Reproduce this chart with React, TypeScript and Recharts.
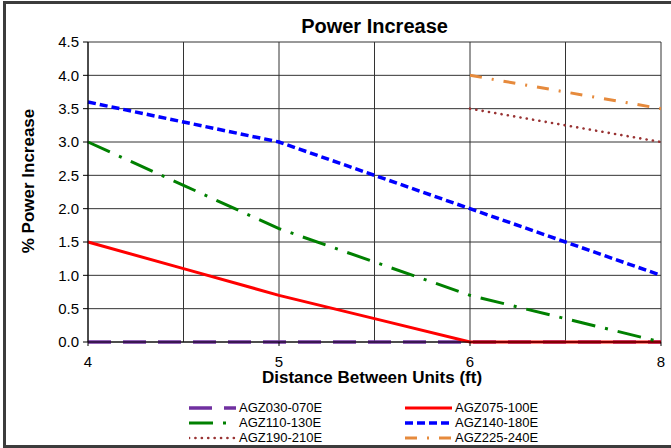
import React from 'react';
import { LineChart, Line, XAxis, YAxis, CartesianGrid } from 'recharts';

const distances = ['4', '4.5', '5', '5.5', '6', '7', '8'];
const labeledDistances = ['4', '5', '6', '8'];
const agz030 = [0, 0, 0, 0, 0, 0, 0];
const agz075 = [1.5, 1.1, 0.7, 0.35, 0, 0, 0];
const agz110 = [3.0, 2.35, 1.7, 1.2, 0.7, 0.35, 0];
const agz140 = [3.6, 3.3, 3.0, 2.5, 2.0, 1.5, 1.0];
const agz190 = [null, null, null, null, 3.5, 3.25, 3.0];
const agz225 = [null, null, null, null, 4.0, 3.75, 3.5];
const yTicks = [0, 0.5, 1, 1.5, 2, 2.5, 3, 3.5, 4, 4.5];

const data = distances.map((d, i) => ({
  dist: d,
  a030: agz030[i],
  a075: agz075[i],
  a110: agz110[i],
  a140: agz140[i],
  a190: agz190[i],
  a225: agz225[i],
}));

const series = [
  { key: 'a030', name: 'AGZ030-070E', color: '#7030A0', width: 3.5, dash: '23 12', cap: 'butt' },
  { key: 'a075', name: 'AGZ075-100E', color: '#FF0000', width: 3, dash: undefined, cap: 'butt' },
  { key: 'a110', name: 'AGZ110-130E', color: '#008000', width: 3, dash: '24 10 3 10', cap: 'butt' },
  { key: 'a140', name: 'AGZ140-180E', color: '#0000FF', width: 3.5, dash: '8 4', cap: 'butt' },
  { key: 'a190', name: 'AGZ190-210E', color: '#993333', width: 2.6, dash: '0.1 6.3', cap: 'round' },
  { key: 'a225', name: 'AGZ225-240E', color: '#E68A3C', width: 3, dash: '12 10 2 10', cap: 'butt' },
];

const font = '"Liberation Sans", Arial, sans-serif';

// only every other category gets a label and a tick mark
const XTick = (props: any) => {
  const { x, y, payload } = props;
  if (!labeledDistances.includes(String(payload.value))) return <g />;
  return (
    <g>
      <line x1={x} x2={x} y1={y - 14} y2={y - 10} stroke="#000" />
      <text x={x} y={y} dy="0.71em" textAnchor="middle" fill="#000" fontSize={15} fontFamily={font}>
        {payload.value}
      </text>
    </g>
  );
};

const LegendItem = ({ s, left, top }: { s: any; left: number; top: number }) => (
  <div style={{ position: 'absolute', left, top, height: 15, display: 'flex', alignItems: 'center' }}>
    <svg width={47} height={8} style={{ display: 'block' }}>
      <line x1={0} y1={4} x2={47} y2={4} stroke={s.color} strokeWidth={s.width}
        strokeDasharray={s.dash} strokeLinecap={s.cap} />
    </svg>
    <span style={{ marginLeft: 3, fontSize: 13, fontFamily: font, color: '#000', whiteSpace: 'nowrap' }}>{s.name}</span>
  </div>
);

export default function App() {
  return (
    <div style={{ position: 'absolute', left: 0, top: 0, width: 671, height: 448, overflow: 'hidden', background: '#fff' }}>
      <div style={{ position: 'absolute', left: 3, top: 1, width: 720, height: 441, border: '3px solid #3c3c3c' }} />
      <div style={{ position: 'absolute', left: 88, top: 14, width: 573, lineHeight: '24px', textAlign: 'center',
        fontFamily: font, fontWeight: 'bold', fontSize: 20, color: '#000' }}>Power Increase</div>
      <div style={{ position: 'absolute', left: 29 - 100, top: 181 - 11, width: 200, lineHeight: '22px', textAlign: 'center',
        transform: 'rotate(-90deg)', fontFamily: font, fontWeight: 'bold', fontSize: 17, color: '#000' }}>% Power Increase</div>
      <div style={{ position: 'absolute', left: 172, top: 369, width: 400, lineHeight: '17px', textAlign: 'center',
        fontFamily: font, fontWeight: 'bold', fontSize: 17, color: '#000' }}>Distance Between Units (ft)</div>
      <div style={{ position: 'absolute', left: 0, top: 0 }}>
        <LineChart width={671} height={448} data={data} margin={{ top: 42, right: 10, left: 0, bottom: 76 }}>
          <CartesianGrid stroke="#333" strokeWidth={1} />
          <XAxis dataKey="dist" interval={0} height={30} tickSize={4} tickMargin={10}
            axisLine={{ stroke: '#000' }} tickLine={false} tick={<XTick />} />
          <YAxis type="number" domain={[0, 4.5]} ticks={yTicks} width={88} tickSize={5} tickMargin={4}
            tickFormatter={(v: number) => v.toFixed(1)} axisLine={{ stroke: '#000' }} tickLine={{ stroke: '#000' }}
            tick={{ fill: '#000', fontSize: 15, fontFamily: font }} />
          {series.map((s) => (
            <Line key={s.key} type="linear" dataKey={s.key} name={s.name} stroke={s.color} strokeWidth={s.width}
              strokeDasharray={s.dash} strokeLinecap={s.cap as any} dot={false} activeDot={false}
              isAnimationActive={false} connectNulls={false} />
          ))}
        </LineChart>
      </div>
      <LegendItem s={series[0]} left={189} top={400} />
      <LegendItem s={series[1]} left={405} top={400} />
      <LegendItem s={series[2]} left={189} top={415} />
      <LegendItem s={series[3]} left={405} top={415} />
      <LegendItem s={series[4]} left={189} top={430} />
      <LegendItem s={series[5]} left={405} top={430} />
    </div>
  );
}
